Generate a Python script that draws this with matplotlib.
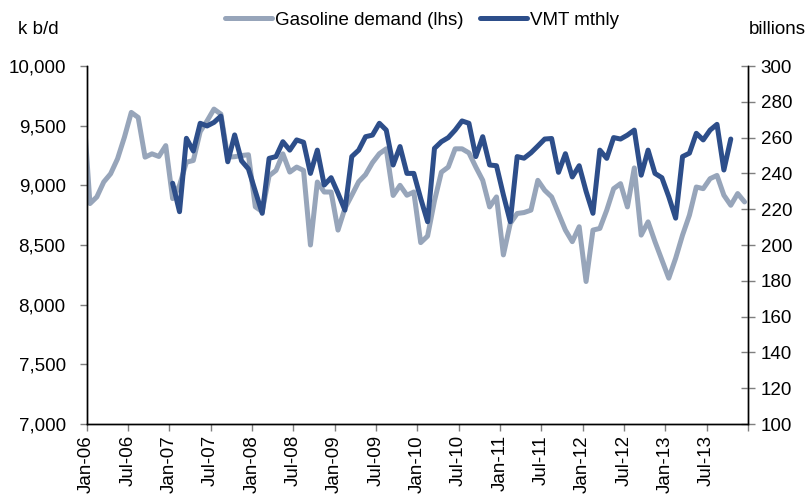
import numpy as np
import matplotlib.pyplot as plt
from matplotlib.ticker import FuncFormatter

plt.rcParams['font.family'] = ['Liberation Sans', 'DejaVu Sans']

# monthly gasoline demand, k b/d, Dec-05 .. Dec-13 (first point sits left of the axis)
gasoline_demand = [
    9700,
    8847, 8903, 9028, 9097, 9222, 9403, 9611, 9569, 9236, 9264, 9242, 9333,
    8889, 9000, 9194, 9208, 9450, 9540, 9639, 9597, 9236, 9240, 9250, 9256,
    8820, 8780, 9080, 9125, 9264, 9111, 9153, 9125, 8500, 9028, 8944, 8944,
    8625, 8806, 8917, 9030, 9090, 9190, 9265, 9306, 8915, 9000, 8917, 8944,
    8520, 8575, 8870, 9110, 9153, 9306, 9306, 9272, 9153, 9042, 8819, 8903,
    8417, 8681, 8764, 8772, 8792, 9042, 8958, 8903, 8764, 8625, 8528, 8653,
    8194, 8625, 8639, 8792, 8972, 9014, 8819, 9146, 8583, 8694, 8528, 8375,
    8222, 8389, 8583, 8750, 8986, 8972, 9056, 9083, 8917, 8833, 8931, 8861,
]

# vehicle miles travelled, billions, Jan-07 .. Oct-13
vmt_monthly = [
    234.5, 218.6, 259.6, 252.5, 268.0, 266.5, 268.5, 272.0, 246.5, 261.5, 247.0, 242.5,
    230.0, 217.7, 248.4, 249.4, 257.7, 253.0, 258.7, 257.4, 240.0, 253.0, 233.5, 237.6,
    228.9, 219.5, 249.4, 253.0, 260.5, 261.4, 268.0, 264.2, 244.7, 255.0, 240.0, 240.0,
    226.0, 213.0, 254.0, 257.7, 260.0, 264.2, 269.3, 268.0, 249.4, 260.5, 244.7, 244.3,
    228.0, 213.0, 249.4, 248.5, 251.5, 255.3, 259.2, 259.5, 240.6, 251.0, 238.0, 244.3,
    230.0, 217.7, 253.0, 248.4, 260.0, 259.2, 261.4, 264.2, 239.0, 253.0, 240.0, 237.6,
    227.0, 215.0, 249.4, 251.3, 262.4, 258.7, 264.2, 267.4, 241.9, 259.2,
]

tick_labels = ['Jan-06', 'Jul-06', 'Jan-07', 'Jul-07', 'Jan-08', 'Jul-08',
               'Jan-09', 'Jul-09', 'Jan-10', 'Jul-10', 'Jan-11', 'Jul-11',
               'Jan-12', 'Jul-12', 'Jan-13', 'Jul-13']

GREY = '#97a5ba'
NAVY = '#2d4e8a'
TICK_C = '#7f7f7f'
FS = 13.5

gas_x = np.arange(-1, -1 + len(gasoline_demand))
vmt_x = np.arange(12, 12 + len(vmt_monthly))

fig = plt.figure(figsize=(8.08, 5.01), dpi=100)
ax = fig.add_axes([86.5 / 808, 1 - 424 / 501, 661.5 / 808, 358 / 501])
ax.plot(gas_x, gasoline_demand, color=GREY, lw=3.6, solid_joinstyle='round',
        solid_capstyle='round', label='Gasoline demand (lhs)')
ax2 = ax.twinx()
ax2.plot(vmt_x, vmt_monthly, color=NAVY, lw=3.6, solid_joinstyle='round',
         solid_capstyle='round', label='VMT mthly')

ax.set_xlim(-0.5, 95.5)
ax.set_ylim(7000, 10000)
ax2.set_ylim(100, 300)
ax.set_yticks(np.arange(7000, 10001, 500))
ax2.set_yticks(np.arange(100, 301, 20))
ax.yaxis.set_major_formatter(FuncFormatter(lambda v, p: f'{int(v):,}'))

ax.set_xticks(np.arange(-0.5, 96, 6))
ax.set_xticklabels(tick_labels + [''], rotation=90, fontsize=FS)

ax.tick_params(axis='x', direction='out', length=5, width=1, color=TICK_C, pad=3)
ax.tick_params(axis='y', direction='out', length=5, width=1, color=TICK_C,
               labelsize=FS, pad=10)
ax2.tick_params(axis='y', direction='inout', length=10, width=1, color=TICK_C,
                labelsize=FS, pad=4)

for a in (ax, ax2):
    a.spines['top'].set_visible(False)
    for s in ('left', 'right', 'bottom'):
        a.spines[s].set_color('black')
        a.spines[s].set_linewidth(1)

fig.text(18 / 808, 1 - 30 / 501, 'k b/d', fontsize=FS, va='center', ha='left')
fig.text(806 / 808, 1 - 30 / 501, 'billions', fontsize=FS, va='center', ha='right')

h1, l1 = ax.get_legend_handles_labels()
h2, l2 = ax2.get_legend_handles_labels()
fig.legend(h1 + h2, l1 + l2, loc='center', bbox_to_anchor=(422 / 808, 1 - 20 / 501),
           ncol=2, frameon=False, fontsize=FS, handlelength=2.5,
           handletextpad=0.15, columnspacing=0.9, borderpad=0)

fig.savefig('out.png', dpi=100)
